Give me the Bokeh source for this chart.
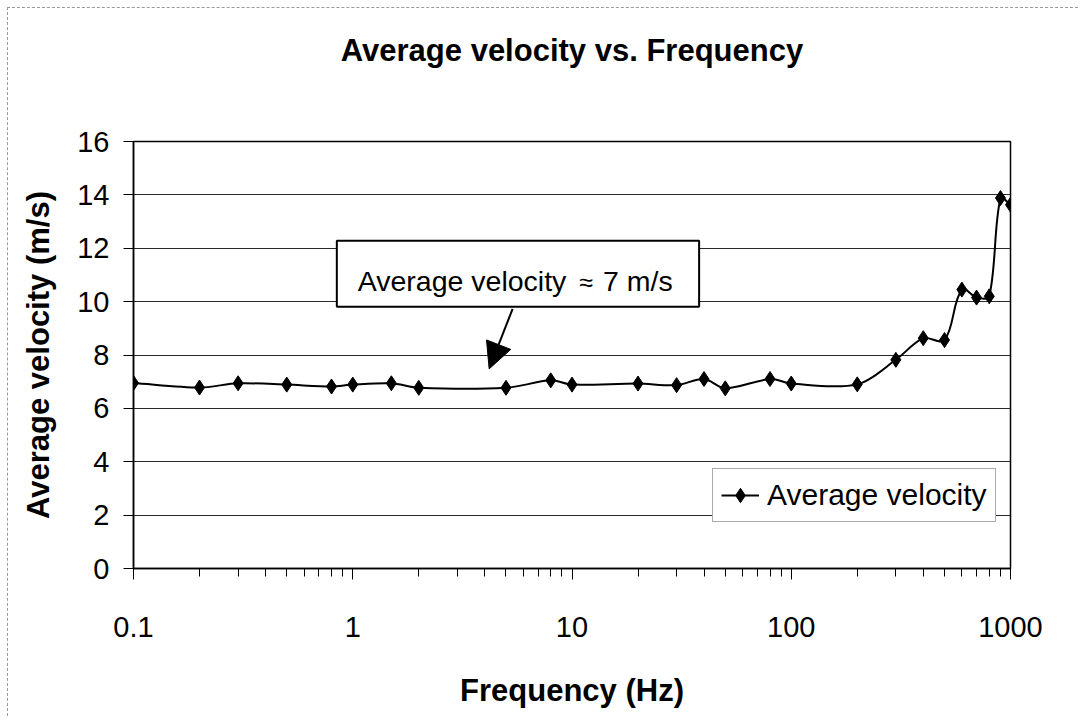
import numpy as np
from bokeh.plotting import figure
from bokeh.models import (Range1d, FixedTicker, SingleIntervalTicker, BoxAnnotation, Label,
                          Arrow, NormalHead, Legend, LegendItem, Title)
from bokeh.embed import file_html
from bokeh.resources import INLINE

# ---- data ----
frequency_hz = [0.1, 0.2, 0.3, 0.5, 0.8, 1, 1.5, 2, 5, 8, 10, 20, 30, 40, 50, 80, 100,
                200, 300, 400, 500, 600, 700, 800, 900, 1000]
avg_velocity = [6.95, 6.78, 6.94, 6.89, 6.82, 6.89, 6.94, 6.77, 6.77, 7.05, 6.89, 6.93,
                6.87, 7.1, 6.75, 7.1, 6.93, 6.9, 7.82, 8.63, 8.56, 10.45, 10.15, 10.2,
                13.88, 13.63]
x_ticks = [0.1, 1, 10, 100, 1000]
x_tick_labels = ["0.1", "1", "10", "100", "1000"]
series_name = "Average velocity"
chart_title = "Average velocity vs. Frequency"
note_main = "Average velocity"
note_approx = "\u2248"
note_value = "7 m/s"

FONT = "Liberation Sans"
FRAME_W, FRAME_H = 877, 427

p = figure(width=1071, height=709, x_axis_type="log",
           x_range=Range1d(0.1, 1000), y_range=Range1d(0, 16),
           output_backend="svg", toolbar_location=None,
           min_border_left=125, min_border_right=69, min_border_top=133, min_border_bottom=149)
p.styles = {"margin-left": "7px", "margin-top": "7px",
            "border-top": "1px dashed #9a9a9a", "border-left": "1px dashed #9a9a9a"}
p.title.visible = False

p.outline_line_color = "black"
p.outline_line_width = 1.5
p.background_fill_color = "white"
p.border_fill_color = "white"

# spacer (closest to the frame) and the real title further out
p.add_layout(Title(text=" ", text_font_size="1px", standoff=66), "above")
p.add_layout(Title(text=chart_title, align="center", text_font=FONT, text_font_style="bold",
                   text_font_size="31px", text_color="black", standoff=10), "above")

# x axis
xa = p.xaxis[0]
minor = [m * 10.0 ** d for d in range(-1, 3) for m in range(2, 10)]
xa.ticker = FixedTicker(ticks=x_ticks, minor_ticks=minor)
xa.major_label_overrides = {t: s for t, s in zip(x_ticks, x_tick_labels)}
xa.axis_label = "Frequency (Hz)"
xa.axis_label_text_font = FONT
xa.axis_label_text_font_style = "bold"
xa.axis_label_text_font_size = "31px"
xa.axis_label_text_color = "black"
xa.axis_label_standoff = 33
xa.major_label_text_font = FONT
xa.major_label_text_font_size = "29px"
xa.major_label_text_color = "black"
xa.major_label_standoff = 37
xa.major_tick_in = 0
xa.major_tick_out = 11
xa.minor_tick_in = 0
xa.minor_tick_out = 8
xa.axis_line_color = "black"
xa.axis_line_width = 1.5
xa.major_tick_line_color = "black"
xa.minor_tick_line_color = "black"

# y axis
ya = p.yaxis[0]
ya.ticker = SingleIntervalTicker(interval=2)
ya.axis_label = "Average velocity (m/s)"
ya.axis_label_text_font = FONT
ya.axis_label_text_font_style = "bold"
ya.axis_label_text_font_size = "31px"
ya.axis_label_text_color = "black"
ya.axis_label_standoff = 18
ya.major_label_text_font = FONT
ya.major_label_text_font_size = "29px"
ya.major_label_text_color = "black"
ya.major_label_standoff = 14
ya.major_tick_in = 0
ya.major_tick_out = 10
ya.minor_tick_line_color = None
ya.axis_line_color = "black"
ya.axis_line_width = 1.5
ya.major_tick_line_color = "black"

p.xgrid.visible = False
p.ygrid.ticker = SingleIntervalTicker(interval=2)
p.ygrid.grid_line_color = "#2a2a2a"
p.ygrid.grid_line_width = 1

# smoothed line: Bezier segments, control points along the local tangent,
# scaled by each segment's on-screen length (similar to a spreadsheet "smoothed line")
sx = FRAME_W / 4.0      # px per decade
sy = FRAME_H / 16.0     # px per unit
lx = np.log10(np.array(frequency_hz, dtype=float))
vy = np.array(avg_velocity, dtype=float)
X, Y = lx * sx, vy * sy
n = len(X)
prev_i = np.r_[0, np.arange(n - 1)]
next_i = np.r_[np.arange(1, n), n - 1]
tx, ty = X[next_i] - X[prev_i], Y[next_i] - Y[prev_i]
tl = np.hypot(tx, ty)
ux, uy = tx / tl, ty / tl
seg = np.hypot(np.diff(X), np.diff(Y))
k = 0.3
c0x = X[:-1] + ux[:-1] * seg * k
c0y = Y[:-1] + uy[:-1] * seg * k
c1x = X[1:] - ux[1:] * seg * k
c1y = Y[1:] - uy[1:] * seg * k
bz = p.bezier(x0=10 ** lx[:-1], y0=vy[:-1], x1=10 ** lx[1:], y1=vy[1:],
              cx0=10 ** (c0x / sx), cy0=c0y / sy, cx1=10 ** (c1x / sx), cy1=c1y / sy,
              line_color="black", line_width=2)
sc = p.scatter(frequency_hz, avg_velocity, marker="diamond", size=15,
               fill_color="black", line_color="black")

# annotation box with text and arrow
box = BoxAnnotation(left=0.846, right=38.0, bottom=9.81, top=12.28,
                    fill_color="white", fill_alpha=1.0, line_color="black",
                    line_alpha=1.0, line_width=2)
p.add_layout(box)
p.add_layout(Label(x=1.054, y=10.79, text=note_main, text_font=FONT,
                   text_font_size="28.5px", text_color="black", text_baseline="alphabetic"))
p.add_layout(Label(x=11.59, y=10.72, text=note_approx, text_font=FONT, text_align="center",
                   text_font_size="25px", text_color="black", text_baseline="middle"))
p.add_layout(Label(x=13.85, y=10.79, text=note_value, text_font=FONT,
                   text_font_size="28.5px", text_color="black", text_baseline="alphabetic"))
p.add_layout(Arrow(end=NormalHead(size=26, fill_color="black", line_color="black"),
                   x_start=5.36, y_start=9.73, x_end=4.19, y_end=7.48,
                   line_color="black", line_width=2))

legend = Legend(items=[LegendItem(label=series_name, renderers=[bz, sc])],
                location=(579, 46))
legend.label_text_font = FONT
legend.label_text_font_size = "30px"
legend.label_text_color = "black"
legend.border_line_color = "#555555"
legend.border_line_width = 1
legend.glyph_width = 38
legend.glyph_height = 36
legend.label_standoff = 8
legend.padding = 8
legend.margin = 0
legend.background_fill_alpha = 1
p.add_layout(legend)

open("out.html", "w").write(file_html(p, INLINE))
